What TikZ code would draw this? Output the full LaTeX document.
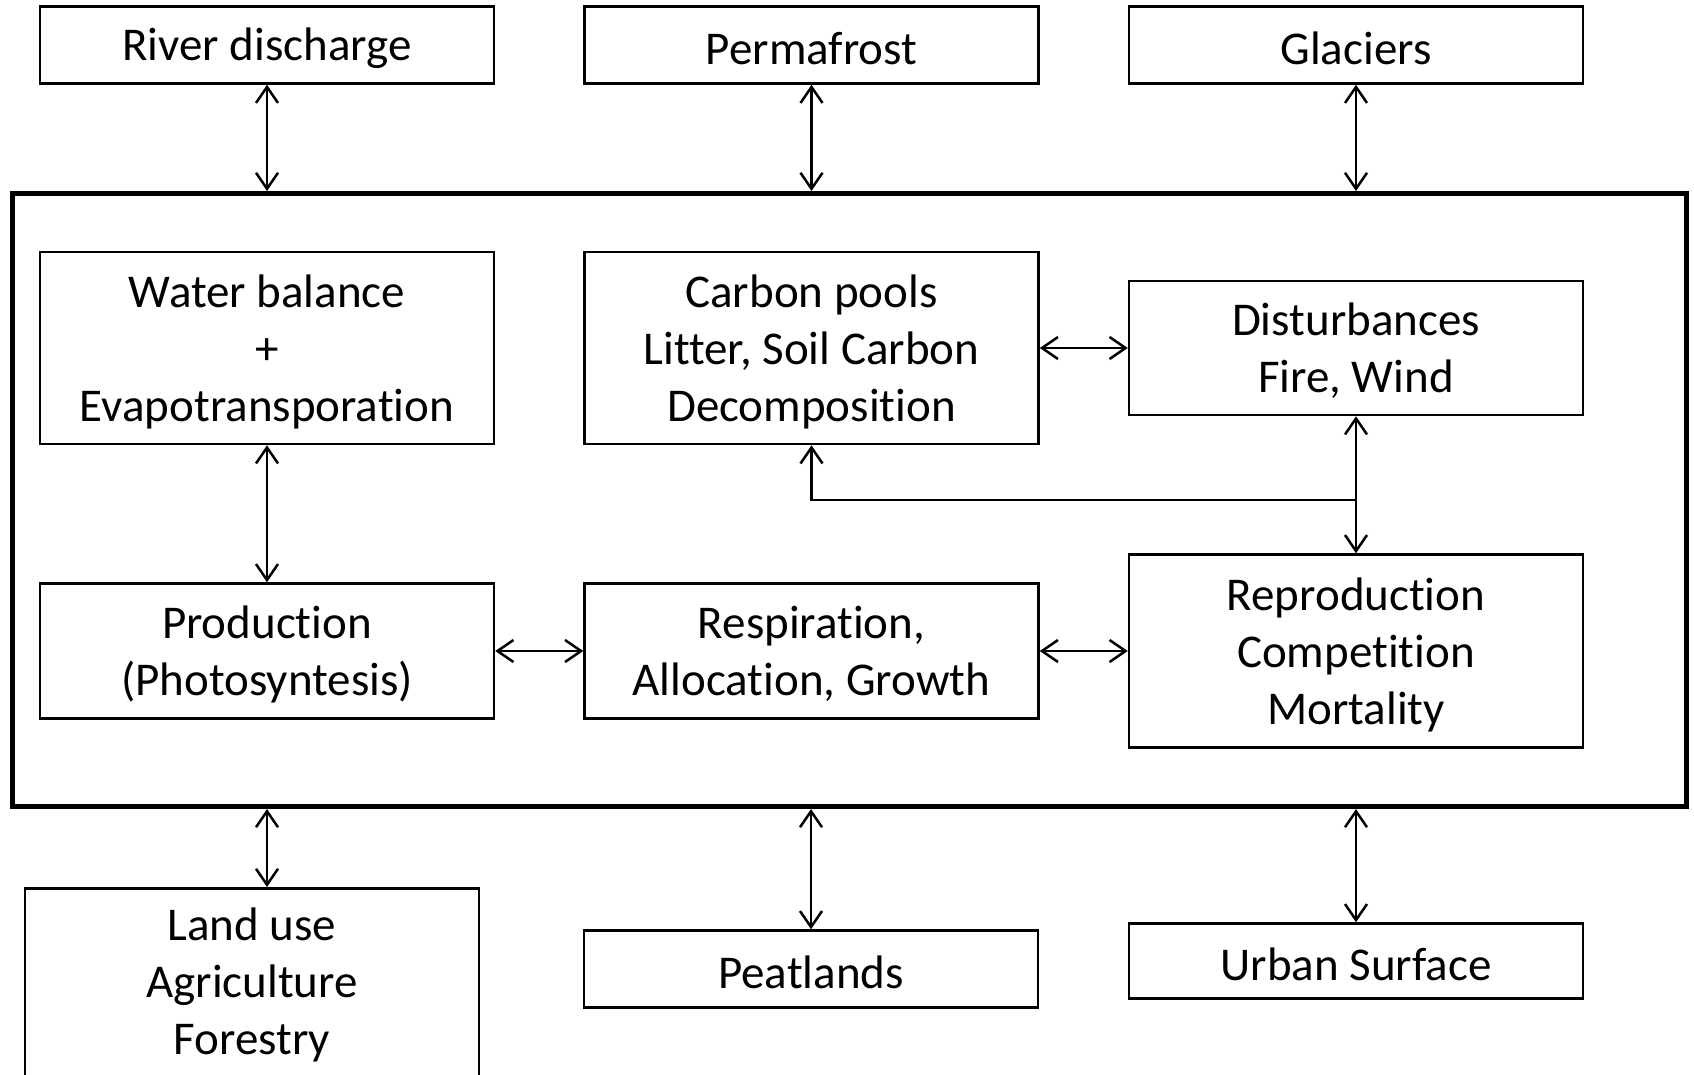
\documentclass[tikz,border=0pt]{standalone}
\usepackage{fontspec}
\setmainfont{Carlito}[Ligatures=CommonOff]
\usetikzlibrary{arrows.meta,positioning}
\tikzset{
    %Define standard arrow tip
    >={Straight Barb[length=16pt,width=22pt]},
    %Define style for boxes
    boks/.style={
           rectangle,
           draw=black,
           line width=2.5pt,
           minimum width=454pt,
           inner sep=0pt,
           align=center,
           execute at begin node={\rule{0pt}{39pt}},
           font=\fontsize{47}{57}\selectfont},
    % boxes with several lines
    fler/.style={
           boks,
           text depth=0pt},
    % Define arrow style
    pil/.style={
           <->,
           line width=2.5pt}
}
\begin{document}
\begin{tikzpicture}[x=1pt, y=-1pt, node distance=88pt]
  \clip (0,0) rectangle (1694,1074);
  % outer processes
  \node[boks, minimum height=77pt] (river) at (267,45) {River discharge};
  \node[boks, minimum height=77pt, right=of river] (perma) {Permafrost};
  \node[boks, minimum height=77pt, right=of perma] (glac) {Glaciers};
  % the model frame
  \node[draw, line width=5pt, minimum width=1674pt, minimum height=613pt] (modell) at (849.5,500) {};
  \node[fler, minimum height=192pt] (water) at (267,348) {Water balance\\+\\Evapotransporation};
  \node[fler, minimum height=192pt, right=of water] (carbon) {Carbon pools\\Litter, Soil Carbon\\Decomposition};
  \node[fler, minimum height=134pt, right=of carbon] (dist) {Disturbances\\Fire, Wind};
  \node[fler, minimum height=135pt] (prod) at (267,651) {Production\\(Photosyntesis)};
  \node[fler, minimum height=135pt, right=of prod] (resp) {Respiration,\\Allocation, Growth};
  \node[fler, minimum height=193pt, right=of resp] (repro) {Reproduction\\Competition\\Mortality};
  % below the frame
  \node[boks, minimum height=194pt, anchor=north] (land) at (252,887) {Land use\\Agriculture\\Forestry};
  \node[boks, minimum height=77pt] (peat) at (811,969) {Peatlands};
  \node[boks, minimum height=75pt] (urban) at (1356,961) {Urban Surface};
  % links
  \draw[pil] (river.south) -- (river.south |- modell.north);
  \draw[pil] (perma.south) -- (perma.south |- modell.north);
  \draw[pil] (glac.south) -- (glac.south |- modell.north);
  \draw[pil] (water) -- (prod);
  \draw[pil] (carbon) -- (dist);
  \draw[pil] (prod) -- (resp);
  \draw[pil] (resp) -- (repro);
  \draw[pil] (dist) -- (repro);
  \coordinate (knekk) at (1356,500);
  \draw[->, line width=2.5pt] (knekk) -| (carbon.south);
  \draw[pil] (water.south |- modell.south) -- (water.south |- land.north);
  \draw[pil] (peat.north |- modell.south) -- (peat.north);
  \draw[pil] (urban.north |- modell.south) -- (urban.north);
\end{tikzpicture}
\end{document}
